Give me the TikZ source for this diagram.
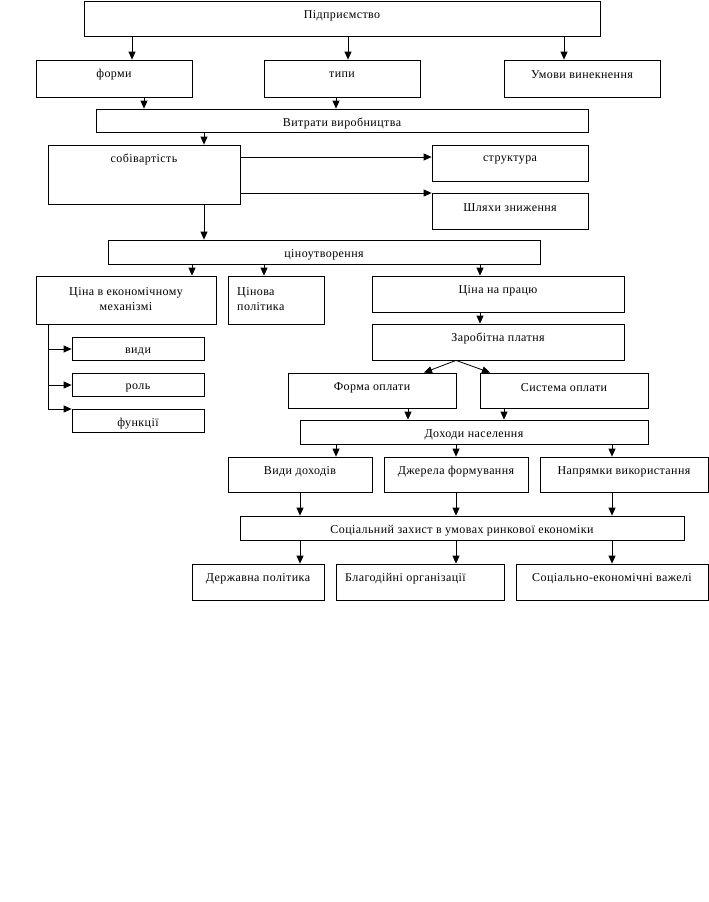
\documentclass[tikz,border=0pt]{standalone}
\usepackage{fontspec}
\setmainfont[LetterSpace=3.5]{Liberation Serif}
\usetikzlibrary{arrows.meta}
\tikzset{
  box/.style={draw,line width=0.8pt,inner sep=0pt},
  txt/.style={inner sep=0pt,font=\fontsize{12}{15}\selectfont},
  arr/.style={line width=0.8pt,-{Triangle[length=8pt,width=7pt]}},
  ln/.style={line width=0.8pt}
}
% box with centered text near top
\newcommand\Bx[6]{%
  \node[box,minimum width={#4-#2},minimum height={#5-#3}] (#1) at ({(#2+#4)/2},{(#3+#5)/2}) {};
  \node[txt] (#1t) at ({(#2+#4)/2},{#3+14.5}) {#6};}
% box with left aligned text near top
\newcommand\Bl[6]{%
  \node[box,minimum width={#4-#2},minimum height={#5-#3}] (#1) at ({(#2+#4)/2},{(#3+#5)/2}) {};
  \node[txt,anchor=west] (#1t) at ({#2+9},{#3+14.5}) {#6};}
\begin{document}
\begin{tikzpicture}[x=1pt,y=-1pt]
\useasboundingbox (0,0) rectangle (709,902);
\Bx{pidp}{84}{1}{600}{36}{Підприємство}
\Bx{formy}{36}{60}{192}{97}{форми}
\Bx{typy}{264}{60}{420}{97}{типи}
\Bx{umovy}{504}{60}{660}{97}{Умови винекнення}
\Bx{vytr}{96}{109}{588}{132}{Витрати виробництва}
\Bx{sobiv}{48}{145}{240}{204}{собівартість}
\Bx{strukt}{432}{145}{588}{181}{структура}
\Bx{shlyakh}{432}{193}{588}{229}{Шляхи зниження}
\Bx{tsin}{108}{240}{540}{264}{ціноутворення}
\node[box,minimum width=180,minimum height=48] (tsinaek) at (126,300) {};
\node[txt,align=center] (tsinaekt) at (126,299.5) {Ціна в економічному\\механізмі};
\node[box,minimum width=96,minimum height=48] (tsinova) at (276,300) {};
\node[txt,align=left,anchor=west] (tsinovat) at (237,299.5) {Цінова\\політика};
\Bx{pratsia}{372}{276}{624}{312}{Ціна на працю}
\Bx{vydy}{72}{337}{204}{360}{види}
\Bx{rol}{72}{373}{204}{396}{роль}
\Bx{funk}{72}{409}{204}{432}{функції}
\Bx{zarob}{372}{324}{624}{360}{Заробітна платня}
\Bx{forma}{288}{373}{456}{408}{Форма оплати}
\Bx{syst}{480}{373}{648}{408}{Система оплати}
\Bx{dokh}{300}{420}{648}{444}{Доходи населення}
\Bx{vyddokh}{228}{457}{372}{492}{Види доходів}
\Bx{dzher}{384}{457}{528}{492}{Джерела формування}
\Bx{napr}{540}{457}{708}{492}{Напрямки використання}
\Bx{sots}{240}{516}{684}{540}{Соціальний захист в умовах ринкової економіки}
\Bx{derzh}{192}{564}{324}{600}{Державна політика}
\Bl{blag}{336}{564}{504}{600}{Благодійні організації}
\Bx{sotsek}{516}{564}{708}{600}{Соціально-економічні важелі}
% connectors
\draw[arr] (132,0 |- pidp.south) -- (132,0 |- formy.north);
\draw[arr] (348,0 |- pidp.south) -- (348,0 |- typy.north);
\draw[arr] (564,0 |- pidp.south) -- (564,0 |- umovy.north);
\draw[arr] (144,0 |- formy.south) -- (144,0 |- vytr.north);
\draw[arr] (336,0 |- typy.south) -- (336,0 |- vytr.north);
\draw[arr] (204,0 |- vytr.south) -- (204,0 |- sobiv.north);
\draw[arr] (sobiv.east |- 0,157) -- (strukt.west |- 0,157);
\draw[arr] (sobiv.east |- 0,193) -- (shlyakh.west |- 0,193);
\draw[arr] (204,0 |- sobiv.south) -- (204,0 |- tsin.north);
\draw[arr] (192,0 |- tsin.south) -- (192,0 |- tsinaek.north);
\draw[arr] (264,0 |- tsin.south) -- (264,0 |- tsinova.north);
\draw[arr] (480,0 |- tsin.south) -- (480,0 |- pratsia.north);
\draw[ln] (48,0 |- tsinaek.south) -- (48,409);
\draw[arr] (48,349) -- (vydy.west |- 0,349);
\draw[arr] (48,385) -- (rol.west |- 0,385);
\draw[arr] (48,409) -- (funk.west |- 0,409);
\draw[arr] (480,0 |- pratsia.south) -- (480,0 |- zarob.north);
\draw[arr] (456,0 |- zarob.south) -- (424,0 |- forma.north);
\draw[arr] (456,0 |- zarob.south) -- (490,0 |- syst.north);
\draw[arr] (408,0 |- forma.south) -- (408,0 |- dokh.north);
\draw[arr] (504,0 |- syst.south) -- (504,0 |- dokh.north);
\draw[arr] (336,0 |- dokh.south) -- (336,0 |- vyddokh.north);
\draw[arr] (456,0 |- dokh.south) -- (456,0 |- dzher.north);
\draw[arr] (612,0 |- dokh.south) -- (612,0 |- napr.north);
\draw[arr] (300,0 |- vyddokh.south) -- (300,0 |- sots.north);
\draw[arr] (456,0 |- dzher.south) -- (456,0 |- sots.north);
\draw[arr] (612,0 |- napr.south) -- (612,0 |- sots.north);
\draw[arr] (300,0 |- sots.south) -- (300,0 |- derzh.north);
\draw[arr] (456,0 |- sots.south) -- (456,0 |- blag.north);
\draw[arr] (612,0 |- sots.south) -- (612,0 |- sotsek.north);
\end{tikzpicture}
\end{document}
